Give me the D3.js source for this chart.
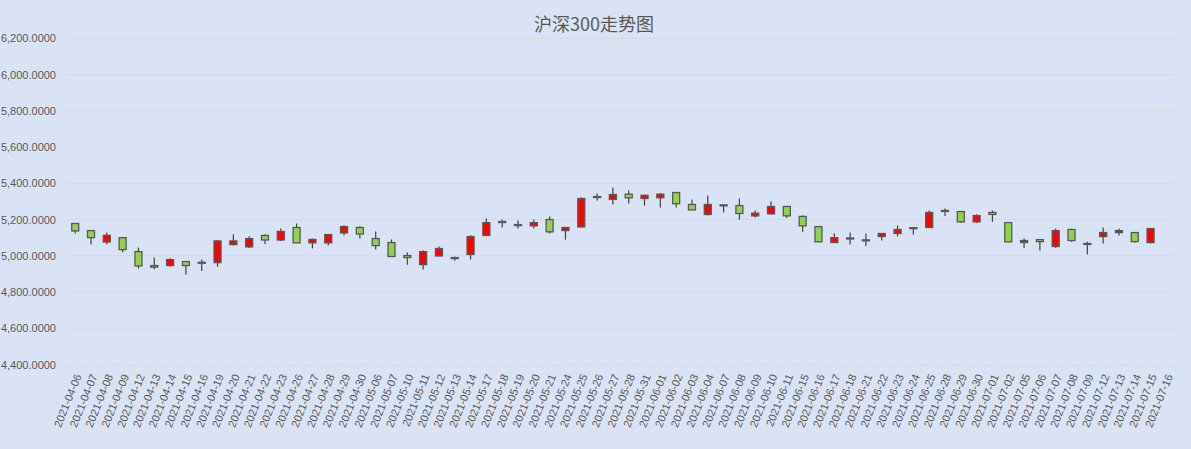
<!DOCTYPE html>
<html>
<head>
<meta charset="utf-8">
<script src="https://cdn.jsdelivr.net/npm/d3@7"></script>
<style>
  html, body { margin: 0; padding: 0; background: #dae3f3; }
  svg { display: block; }
</style>
</head>
<body>
<svg width="1191" height="449"></svg>
<script>
const dates = ['2021-04-06','2021-04-07','2021-04-08','2021-04-09','2021-04-12','2021-04-13','2021-04-14','2021-04-15','2021-04-16','2021-04-19',
  '2021-04-20','2021-04-21','2021-04-22','2021-04-23','2021-04-26','2021-04-27','2021-04-28','2021-04-29','2021-04-30','2021-05-06',
  '2021-05-07','2021-05-10','2021-05-11','2021-05-12','2021-05-13','2021-05-14','2021-05-17','2021-05-18','2021-05-19','2021-05-20',
  '2021-05-21','2021-05-24','2021-05-25','2021-05-26','2021-05-27','2021-05-28','2021-05-31','2021-06-01','2021-06-02','2021-06-03',
  '2021-06-04','2021-06-07','2021-06-08','2021-06-09','2021-06-10','2021-06-11','2021-06-15','2021-06-16','2021-06-17','2021-06-18',
  '2021-06-21','2021-06-22','2021-06-23','2021-06-24','2021-06-25','2021-06-28','2021-06-29','2021-06-30','2021-07-01','2021-07-02',
  '2021-07-05','2021-07-06','2021-07-07','2021-07-08','2021-07-09','2021-07-12','2021-07-13','2021-07-14','2021-07-15','2021-07-16'];

const open  = [5178,5139,5076,5100,5023,4946,4946,4968,4961,4962, 5062,5049,5112,5087,5156,5071,5071,5126,5156,5095,
  5073,5001,4951,4999,4990,5007,5112,5186,5172,5165, 5200,5139,5159,5323,5311,5340,5316,5320,5349,5283,
  5228,5281,5277,5220,5231,5272,5217,5161,5073,5098, 5088,5106,5123,5155,5156,5250,5244,5187,5239,5183,
  5073,5089,5051,5145,5068,5106,5128,5128,5073,null];
const close = [5137,5100,5113,5034,4944,4937,4979,4946,4964,5082, 5082,5095,5087,5134,5071,5090,5117,5161,5120,5056,
  4996,4990,5023,5040,4986,5106,5183,5189,5169,5183, 5132,5156,5316,5327,5338,5320,5334,5340,5287,5253,
  5283,5279,5233,5235,5272,5220,5165,5077,5100,5095, 5085,5123,5145,5152,5239,5246,5187,5222,5228,5077,
  5084,5078,5139,5084,5064,5128,5139,5078,5150,null];
const high  = [5180,5141,5128,5103,5045,4990,4986,4970,4979,5086, 5119,5108,5119,5150,5178,5095,5118,5169,5163,5134,
  5090,5018,5029,5051,4996,5113,5206,5200,5194,5200, 5217,5157,5323,5344,5377,5360,5336,5346,5350,5311,
  5333,5283,5316,5250,5299,5274,5222,5163,5123,5128, 5123,5124,5167,5158,5250,5261,5245,5229,5250,5185,
  5095,5091,5150,5150,5077,5156,5150,5130,5152,null];
const low   = [5123,5062,5062,5020,4930,4926,4940,4896,4916,4940, 5056,5043,5065,5082,5070,5041,5056,5112,5095,5034,
  4995,4951,4924,4997,4973,4979,5110,5156,5150,5150, 5123,5089,5158,5305,5283,5288,5277,5266,5266,5252,
  5222,5239,5200,5211,5228,5209,5132,5075,5072,5062, 5054,5084,5106,5117,5155,5220,5182,5182,5187,5075,
  5043,5029,5043,5077,5007,5067,5112,5073,5067,null];

const yTicks = [4400,4600,4800,5000,5200,5400,5600,5800,6000,6200];

const data = dates.map((d, i) => ({date: d, o: open[i], c: close[i], h: high[i], l: low[i]}));

const svg = d3.select('svg');
const plotLeft = 67.3, plotRight = 1174.3, plotTop = 38.3, plotBottom = 364.5;

const x = d3.scaleBand().domain(dates).range([plotLeft, plotRight]);
const y = d3.scaleLinear().domain([4400, 6200]).range([plotBottom, plotTop]);
const fmt = d3.format(',.4f');

// title
svg.append('text')
  .attr('x', 594).attr('y', 31)
  .attr('text-anchor', 'middle')
  .attr('font-family', '"Noto Sans CJK SC", sans-serif')
  .attr('font-size', 18)
  .attr('fill', '#595959')
  .text('沪深300走势图');

// grid
svg.append('g')
  .selectAll('line')
  .data(yTicks.filter(v => v > 4400))
  .enter()
  .append('line')
  .attr('x1', plotLeft).attr('x2', plotRight)
  .attr('y1', d => y(d)).attr('y2', d => y(d))
  .attr('stroke', '#d9d9d9')
  .attr('stroke-width', 1);

// y axis labels
const yAxis = svg.append('g')
  .attr('transform', `translate(${56},0)`)
  .call(d3.axisLeft(y).tickValues(yTicks).tickFormat(fmt).tickSize(0).tickPadding(0));
yAxis.select('.domain').remove();
yAxis.selectAll('text')
  .attr('font-family', '"Liberation Sans", Arial, sans-serif')
  .attr('font-size', 11)
  .attr('fill', '#595959');

// x axis
const xAxis = svg.append('g')
  .attr('transform', `translate(0,${plotBottom})`)
  .call(d3.axisBottom(x).tickSize(0).tickPadding(0));
xAxis.select('.domain').attr('stroke', '#d9d9d9');
xAxis.selectAll('text')
  .attr('font-family', '"Liberation Sans", Arial, sans-serif')
  .attr('font-size', 11)
  .attr('fill', '#595959')
  .attr('text-anchor', 'end')
  .attr('transform', `translate(3,10) rotate(-68)`)
  .attr('dy', '0.35em');

// band edge ticks
svg.append('g')
  .selectAll('line')
  .data(d3.range(dates.length + 1))
  .enter()
  .append('line')
  .attr('x1', i => plotLeft + i * x.step()).attr('x2', i => plotLeft + i * x.step())
  .attr('y1', plotBottom).attr('y2', plotBottom + 4)
  .attr('stroke', '#d9d9d9');

// candles
const candles = svg.append('g')
  .selectAll('g')
  .data(data.filter(d => d.o != null))
  .enter()
  .append('g')
  .attr('transform', d => `translate(${x(d.date) + x.bandwidth() / 2},0)`);

candles.append('line')
  .attr('y1', d => y(d.h)).attr('y2', d => y(d.l))
  .attr('stroke', '#404040')
  .attr('stroke-width', 1.2);

const bw = 7;
candles.append('rect')
  .attr('x', -bw / 2)
  .attr('width', bw)
  .attr('y', d => y(Math.max(d.o, d.c)))
  .attr('height', d => Math.max(1, Math.abs(y(d.o) - y(d.c))))
  .attr('fill', d => d.c >= d.o ? '#ff0000' : '#92d050')
  .attr('stroke', '#595959')
  .attr('stroke-width', 1.3);
</script>
</body>
</html>
